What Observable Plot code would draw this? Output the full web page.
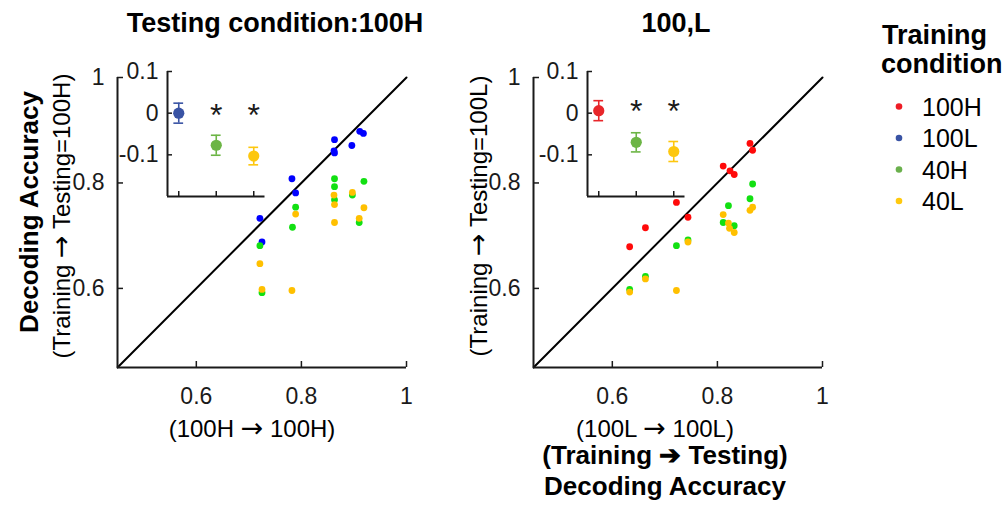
<!DOCTYPE html>
<html>
<head>
<meta charset="utf-8">
<script src="https://cdn.jsdelivr.net/npm/d3@7"></script>
<script src="https://cdn.jsdelivr.net/npm/@observablehq/plot@0.6"></script>
<style>
  body { margin: 0; background: #fff; }
  #root { position: relative; width: 1008px; height: 506px; overflow: hidden; background: #fff; }
</style>
</head>
<body>
<div id="root"></div>
<script>
// ---------------- data ----------------
const conditions = ["100H", "100L", "40H", "40L"];
const mainDomain = [0.45, 1];
const mainTicks = [0.6, 0.8, 1];
const insetDomainY = [-0.2, 0.1];
const insetTicks = [-0.1, 0, 0.1];
const insetPositions = [1, 2, 3];

// Left panel: testing condition 100H (x = 100H -> 100H accuracy)
const L_100L_x = [0.721, 0.725, 0.782, 0.789, 0.863, 0.862, 0.863, 0.896, 0.911, 0.918];
const L_100L_y = [0.733, 0.688, 0.808, 0.781, 0.882, 0.861, 0.857, 0.871, 0.898, 0.894];
const L_40H_x  = [0.721, 0.725, 0.783, 0.789, 0.863, 0.863, 0.863, 0.897, 0.910, 0.919];
const L_40H_y  = [0.681, 0.592, 0.716, 0.754, 0.808, 0.793, 0.768, 0.777, 0.725, 0.803];
const L_40L_x  = [0.721, 0.725, 0.782, 0.789, 0.862, 0.863, 0.863, 0.897, 0.910, 0.919];
const L_40L_y  = [0.647, 0.598, 0.596, 0.741, 0.777, 0.759, 0.725, 0.782, 0.733, 0.753];

// Right panel: testing condition 100L (x = 100L -> 100L accuracy)
const R_100H_x = [0.633, 0.663, 0.722, 0.744, 0.811, 0.824, 0.832, 0.862, 0.867];
const R_100H_y = [0.679, 0.715, 0.763, 0.735, 0.832, 0.823, 0.816, 0.875, 0.862];
const R_40H_x  = [0.633, 0.663, 0.722, 0.744, 0.811, 0.821, 0.832, 0.862, 0.867];
const R_40H_y  = [0.598, 0.623, 0.681, 0.692, 0.725, 0.757, 0.719, 0.770, 0.798];
const R_40L_x  = [0.633, 0.663, 0.722, 0.744, 0.811, 0.821, 0.823, 0.832, 0.862, 0.867];
const R_40L_y  = [0.593, 0.618, 0.596, 0.688, 0.740, 0.724, 0.714, 0.706, 0.748, 0.754];

// Insets: mean accuracy difference and error
const insetL_cond = ["100L", "40H", "40L"];
const insetL_mean = [0.000, -0.077, -0.103];
const insetL_err  = [0.024, 0.024, 0.021];
const insetL_sig  = [false, true, true];
const insetL_starY = 0.016;

const insetR_cond = ["100H", "40H", "40L"];
const insetR_mean = [0.006, -0.070, -0.092];
const insetR_err  = [0.024, 0.023, 0.024];
const insetR_sig  = [false, true, true];
const insetR_starY = 0.026;

// colours
const scatterColor = { "100H": "#ff0a0a", "100L": "#0000ff", "40H": "#12e012", "40L": "#ffc000" };
const insetColor   = { "100H": "#e8262a", "100L": "#3953a4", "40H": "#6cb545", "40L": "#fdc70f" };

// ---------------- helpers ----------------
const FONT = "Arial, 'Liberation Sans', Helvetica, sans-serif";
const INK = "#1a1a1a";
const root = document.getElementById("root");
function place(node, left, top) {
  node.style.position = "absolute";
  node.style.left = left + "px";
  node.style.top = top + "px";
  root.appendChild(node);
}
const fmt = d => String(d);
function rows(xs, ys, cond) { return xs.map((x, i) => ({ x, y: ys[i], cond })); }

function mainPanel(series) {
  return Plot.plot({
    width: 420, height: 440,
    marginLeft: 117, marginRight: 14, marginTop: 77, marginBottom: 73,
    style: { background: "transparent", fontFamily: FONT, fontSize: "23px", color: INK, overflow: "visible" },
    x: { domain: mainDomain },
    y: { domain: mainDomain },
    marks: [
      Plot.line(mainDomain, { x: d => d, y: d => d, stroke: "#000", strokeWidth: 2 }),
      ...series.map(s => Plot.dot(s.data, { x: "x", y: "y", r: 3.4, fill: scatterColor[s.cond] })),
      Plot.axisX({ ticks: mainTicks, tickSize: -6, tickPadding: 26, tickFormat: fmt, label: null, stroke: INK, strokeWidth: 1.5 }),
      Plot.axisY({ ticks: mainTicks, tickSize: -6, tickPadding: 19, tickFormat: fmt, label: null, stroke: INK, strokeWidth: 1.5 }),
      Plot.ruleX([mainDomain[0]], { stroke: INK, strokeWidth: 2 }),
      Plot.ruleY([mainDomain[0]], { stroke: INK, strokeWidth: 2 })
    ]
  });
}

function insetPanel(cats, means, errs, sigs, starY) {
  const data = cats.map((c, i) => ({ i: insetPositions[i], c, m: means[i], e: errs[i], sig: sigs[i] }));
  const col = d => insetColor[d.c];
  return Plot.plot({
    width: 170, height: 150,
    marginLeft: 57, marginRight: 15.5, marginTop: 21, marginBottom: 4,
    style: { background: "transparent", fontFamily: FONT, fontSize: "23px", color: INK, overflow: "visible" },
    x: { domain: [0.7, 3.3] },
    y: { domain: insetDomainY },
    color: { type: "identity" },
    marks: [
      Plot.ruleX(data, { x: "i", y1: d => d.m - d.e, y2: d => d.m + d.e, stroke: col, strokeWidth: 1.6 }),
      Plot.ruleY(data, { y: d => d.m - d.e, x1: d => d.i - 0.13, x2: d => d.i + 0.13, stroke: col, strokeWidth: 1.6 }),
      Plot.ruleY(data, { y: d => d.m + d.e, x1: d => d.i - 0.13, x2: d => d.i + 0.13, stroke: col, strokeWidth: 1.6 }),
      Plot.dot(data, { x: "i", y: "m", r: 5.6, fill: col }),
      Plot.text(data.filter(d => d.sig), { x: "i", y: () => starY, text: () => "*", fontSize: 32, fill: INK, dy: 9 }),
      Plot.axisX({ ticks: insetPositions, tickSize: -5, tickFormat: () => "", label: null, stroke: INK, strokeWidth: 1.5 }),
      Plot.axisY({ ticks: insetTicks, tickSize: -5, tickPadding: 14, tickFormat: fmt, label: null, stroke: INK, strokeWidth: 1.5 }),
      Plot.ruleX([0.7], { stroke: INK, strokeWidth: 2 }),
      Plot.ruleY([insetDomainY[0]], { stroke: INK, strokeWidth: 2 })
    ]
  });
}

// ---------------- panels ----------------
place(mainPanel([
  { cond: "100L", data: rows(L_100L_x, L_100L_y, "100L") },
  { cond: "40H",  data: rows(L_40H_x,  L_40H_y,  "40H") },
  { cond: "40L",  data: rows(L_40L_x,  L_40L_y,  "40L") }
]), 0, 0);

place(mainPanel([
  { cond: "100H", data: rows(R_100H_x, R_100H_y, "100H") },
  { cond: "40H",  data: rows(R_40H_x,  R_40H_y,  "40H") },
  { cond: "40L",  data: rows(R_40L_x,  R_40L_y,  "40L") }
]), 416, 0);

place(insetPanel(insetL_cond, insetL_mean, insetL_err, insetL_sig, insetL_starY), 110, 50);
place(insetPanel(insetR_cond, insetR_mean, insetR_err, insetR_sig, insetR_starY), 530, 50);

// ---------------- text overlay ----------------
const svg = d3.create("svg")
  .attr("width", 1008).attr("height", 506)
  .style("position", "absolute").style("left", "0px").style("top", "0px")
  .style("font-family", FONT).style("pointer-events", "none");

// parts: array of [string, isArrow]
function txt(x, y, parts, { size = 24, weight = "normal", anchor = "middle", rotate = false, arrowSize = 27 } = {}) {
  const t = svg.append("text")
    .attr("font-size", size).attr("font-weight", weight)
    .attr("text-anchor", anchor).attr("fill", "#000");
  if (typeof parts === "string") parts = [[parts, false]];
  parts.forEach(([s, arrow]) => {
    const sp = t.append("tspan").text(s);
    if (arrow) sp.attr("font-family", "'DejaVu Sans', sans-serif").attr("font-size", arrowSize).attr("font-weight", "normal");
  });
  if (rotate) t.attr("transform", `translate(${x},${y}) rotate(-90)`);
  else t.attr("x", x).attr("y", y);
  return t;
}

const AR = "\u2192";
txt(275, 32, "Testing condition:100H", { size: 27, weight: "bold" });
txt(676, 32, "100,L", { size: 27, weight: "bold" });

txt(38, 212, "Decoding Accuracy", { size: 26, weight: "bold", rotate: true });
txt(70, 216, [["(Training ", false], [AR, true], [" Testing=100H)", false]], { size: 24, rotate: true });
txt(487, 216, [["(Training ", false], [AR, true], [" Testing=100L)", false]], { size: 24, rotate: true });

txt(252, 437, [["(100H ", false], [AR, true], [" 100H)", false]], { size: 24 });
txt(655, 437, [["(100L ", false], [AR, true], [" 100L)", false]], { size: 24 });
txt(665, 464, "(Training \u2794 Testing)", { size: 26, weight: "bold" });
txt(665, 495, "Decoding Accuracy", { size: 26, weight: "bold" });

// legend
txt(882, 44, "Training", { size: 27, weight: "bold", anchor: "start" });
txt(881, 73, "condition", { size: 27, weight: "bold", anchor: "start" });
const legendColor = { "100H": "#ee1c25", "100L": "#3953a4", "40H": "#6ab04c", "40L": "#ffc90e" };
conditions.forEach((c, i) => {
  const cy = 106.5 + i * 31.5;
  svg.append("circle").attr("cx", 899).attr("cy", cy).attr("r", 3.3).attr("fill", legendColor[c]);
  txt(922, cy + 9, c, { size: 25, anchor: "start" });
});

root.appendChild(svg.node());
</script>
</body>
</html>
